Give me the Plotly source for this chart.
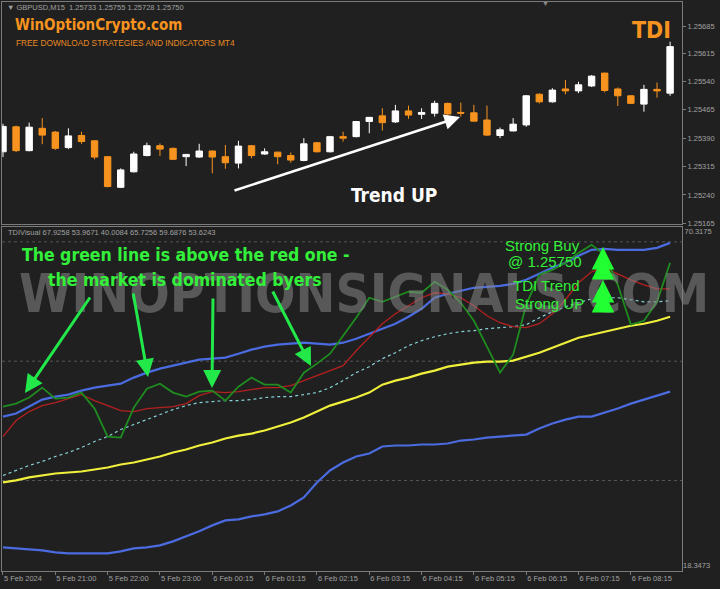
import plotly.graph_objects as go

# ---------------- data ----------------
bar_index = list(range(52))
open_ = [1.25354, 1.25420, 1.25357, 1.25416, 1.25406, 1.25365, 1.25397, 1.25383, 1.25341, 1.25260,
         1.25301, 1.25344, 1.25370, 1.25363, 1.25341, 1.25340, 1.25356, 1.25341, 1.25324, 1.25370,
         1.25348, 1.25353, 1.25344, 1.25331, 1.25378, 1.25354, 1.25394, 1.25394, 1.25434, 1.25449,
         1.25433, 1.25462, 1.25453, 1.25456, 1.25482, 1.25458, 1.25457, 1.25438, 1.25397, 1.25409,
         1.25425, 1.25506, 1.25486, 1.25520, 1.25515, 1.25528, 1.25562, 1.25520, 1.25502, 1.25480,
         1.25519, 1.25509]
high = [1.25428, 1.25423, 1.25431, 1.25443, 1.25409, 1.25416, 1.25407, 1.25385, 1.25343, 1.25310,
        1.25354, 1.25378, 1.25376, 1.25365, 1.25348, 1.25375, 1.25357, 1.25372, 1.25383, 1.25372,
        1.25363, 1.25354, 1.25352, 1.25390, 1.25380, 1.25396, 1.25407, 1.25435, 1.25446, 1.25469,
        1.25478, 1.25476, 1.25469, 1.25489, 1.25484, 1.25484, 1.25478, 1.25476, 1.25418, 1.25443,
        1.25504, 1.25509, 1.25522, 1.25544, 1.25539, 1.25557, 1.25563, 1.25524, 1.25504, 1.25531,
        1.25537, 1.25645]
low = [1.25340, 1.25353, 1.25355, 1.25374, 1.25359, 1.25361, 1.25375, 1.25334, 1.25260, 1.25258,
       1.25299, 1.25342, 1.25343, 1.25332, 1.25316, 1.25338, 1.25297, 1.25309, 1.25310, 1.25337,
       1.25346, 1.25321, 1.25325, 1.25329, 1.25352, 1.25352, 1.25381, 1.25392, 1.25403, 1.25410,
       1.25430, 1.25441, 1.25441, 1.25447, 1.25449, 1.25447, 1.25434, 1.25396, 1.25390, 1.25408,
       1.25420, 1.25482, 1.25484, 1.25506, 1.25509, 1.25525, 1.25511, 1.25475, 1.25480, 1.25460,
       1.25497, 1.25502]
close = [1.25421, 1.25357, 1.25419, 1.25398, 1.25363, 1.25396, 1.25381, 1.25340, 1.25262, 1.25306,
         1.25348, 1.25370, 1.25361, 1.25334, 1.25347, 1.25356, 1.25340, 1.25325, 1.25369, 1.25344,
         1.25354, 1.25341, 1.25332, 1.25375, 1.25354, 1.25394, 1.25390, 1.25434, 1.25445, 1.25431,
         1.25462, 1.25451, 1.25458, 1.25482, 1.25454, 1.25456, 1.25435, 1.25398, 1.25412, 1.25427,
         1.25502, 1.25486, 1.25517, 1.25515, 1.25531, 1.25554, 1.25516, 1.25502, 1.25482, 1.25519,
         1.25515, 1.25632]

rsi_price_line = [43.15, 43.60, 44.51, 46.01, 44.36, 44.51, 45.26, 42.85, 38.63, 38.48,
                  43.00, 45.86, 46.61, 45.26, 44.66, 45.41, 45.56, 44.05, 46.16, 47.52,
                  46.46, 46.46, 45.26, 48.27, 49.63, 51.13, 53.84, 56.55, 59.57, 58.96,
                  59.72, 60.47, 60.32, 61.98, 60.77, 58.81, 56.10, 52.19, 48.27, 50.98,
                  58.51, 63.03, 63.78, 64.84, 66.34, 67.55, 66.04, 61.52, 55.50, 56.10,
                  58.96, 64.84]
trade_signal_line = [38.63, 41.04, 42.40, 43.30, 43.75, 44.36, 44.96, 44.05, 43.30, 42.55,
                     42.40, 42.85, 43.00, 43.15, 43.60, 44.81, 45.41, 45.26, 45.41, 45.71,
                     46.01, 46.01, 46.31, 47.07, 47.82, 48.57, 49.33, 51.58, 53.69, 55.65,
                     57.16, 58.36, 59.57, 60.32, 60.17, 59.57, 58.36, 56.86, 55.80, 55.20,
                     55.05, 55.65, 57.16, 59.27, 61.83, 63.48, 64.08, 63.18, 62.28, 61.52,
                     60.92, 60.92]
upper_band = [41.64, 42.10, 43.15, 44.21, 44.66, 44.96, 45.56, 46.01, 46.31, 46.61,
              47.52, 48.27, 48.87, 49.33, 49.78, 50.23, 50.38, 50.53, 51.13, 51.74,
              52.19, 52.49, 52.64, 52.79, 52.64, 52.49, 52.79, 53.39, 54.14, 54.90,
              55.65, 56.70, 57.91, 59.57, 60.17, 60.62, 61.07, 61.22, 61.37, 61.67,
              62.28, 63.18, 64.08, 64.84, 65.89, 66.80, 66.95, 66.80, 66.80, 66.80,
              67.10, 67.85]
lower_band = [21.92, 21.77, 21.62, 21.46, 21.16, 21.01, 21.01, 21.01, 21.01, 21.31,
              21.77, 21.92, 22.22, 22.82, 23.57, 24.33, 25.23, 25.98, 26.13, 26.58,
              26.89, 27.34, 28.24, 29.45, 31.71, 33.51, 34.72, 35.62, 36.07, 37.13,
              37.28, 37.28, 37.43, 37.43, 37.58, 38.03, 38.18, 38.48, 38.63, 38.78,
              38.93, 39.84, 40.59, 41.19, 41.64, 41.64, 42.25, 42.85, 43.60, 44.21,
              44.81, 45.41]
market_base_line = [31.71, 32.01, 32.46, 32.76, 33.06, 33.21, 33.36, 33.66, 33.96, 34.42,
                    34.72, 35.17, 35.62, 36.22, 36.68, 37.28, 37.73, 38.33, 38.78, 39.08,
                    39.54, 40.14, 40.74, 41.49, 42.40, 43.30, 43.90, 44.51, 45.26, 46.46,
                    47.07, 47.52, 48.12, 48.57, 49.17, 49.48, 49.78, 49.93, 49.93, 50.08,
                    50.68, 51.28, 52.04, 52.79, 53.54, 53.99, 54.45, 54.90, 55.35, 55.65,
                    56.10, 56.70]
slow_signal_line = [32.76, 33.51, 34.27, 34.87, 35.62, 36.22, 36.98, 37.88, 38.63, 39.69,
                    40.44, 41.19, 41.95, 42.70, 43.30, 43.75, 43.90, 44.05, 44.05, 44.21,
                    44.51, 44.66, 44.66, 44.96, 45.26, 46.01, 47.07, 48.27, 49.17, 50.38,
                    51.28, 52.34, 53.09, 53.69, 54.14, 54.45, 54.60, 54.90, 55.05, 55.20,
                    55.50, 56.55, 57.46, 58.21, 58.81, 59.42, 59.57, 59.57, 59.27, 58.96,
                    58.96, 59.11]

time_tick_index = [0, 4, 8, 12, 16, 20, 24, 28, 32, 36, 40, 44, 48]
time_tick_text = ["5 Feb 2024", "5 Feb 21:00", "5 Feb 22:00", "5 Feb 23:00", "6 Feb 00:15",
                  "6 Feb 01:15", "6 Feb 02:15", "6 Feb 03:15", "6 Feb 04:15", "6 Feb 05:15",
                  "6 Feb 06:15", "6 Feb 07:15", "6 Feb 08:15"]
price_ticks = [1.25165, 1.25240, 1.25315, 1.25390, 1.25465, 1.25540, 1.25615, 1.25685]
tdi_levels = [32, 50, 68]
tdi_max, tdi_min = 70.3175, 18.3473

# ---------------- styling helpers ----------------
W, H = 720, 589
L, R, T, B = 2, 38, 2, 18
PW, PH = W - L - R, H - T - B
BG = "#202020"
AX = "#7a7a7a"
TXT = "#a0a0a0"
ORANGE = "#f7931e"
LIME = "#33f03a"
NARROW = "Liberation Sans Narrow, DejaVu Sans Condensed, Arial Narrow, sans-serif"
SANS = "Liberation Sans, Arial, sans-serif"


def fx(p):
    return (p - L) / PW


def fy(p):
    return (H - B - p) / PH


xr = [-0.076, 51.91]

fig = go.Figure()
fig.add_trace(go.Candlestick(
    x=bar_index, open=open_, high=high, low=low, close=close,
    increasing=dict(line=dict(color="#ffffff", width=1), fillcolor="#ffffff"),
    decreasing=dict(line=dict(color=ORANGE, width=1), fillcolor=ORANGE),
    whiskerwidth=0, xaxis="x", yaxis="y", hoverinfo="skip", showlegend=False))

lines = [
    (slow_signal_line, "#86d0d6", 1.2, "dot"),
    (market_base_line, "#f0f03c", 2.2, "solid"),
    (upper_band, "#4b6be0", 2.2, "solid"),
    (lower_band, "#4b6be0", 2.2, "solid"),
    (trade_signal_line, "#b42020", 1.3, "solid"),
    (rsi_price_line, "#1f8c1f", 1.8, "solid"),
]
for vals, col, wd, dash in lines:
    fig.add_trace(go.Scatter(x=bar_index, y=vals, mode="lines", xaxis="x2", yaxis="y2",
                             line=dict(color=col, width=wd, dash=dash),
                             hoverinfo="skip", showlegend=False))
fig.add_trace(go.Scatter(x=[], y=[], xaxis="x2", yaxis="y3", showlegend=False))

for lv in tdi_levels:
    fig.add_shape(type="line", xref="x2 domain", x0=0, x1=1, yref="y2", y0=lv, y1=lv,
                  line=dict(color="#555555", width=1, dash="dot"), layer="below")

tickfont = dict(family=SANS, size=7.5, color=TXT)
axis_common = dict(showline=True, mirror=True, linecolor=AX, linewidth=1,
                   showgrid=False, zeroline=False, fixedrange=True, automargin=False)

fig.update_layout(
    width=W, height=H, autosize=False,
    margin=dict(l=L, r=R, t=T, b=B, autoexpand=False),
    paper_bgcolor=BG, plot_bgcolor=BG,
    showlegend=False,
    xaxis=dict(domain=[0, 1], anchor="y", range=xr, showticklabels=False, ticks="",
               rangeslider=dict(visible=False), **axis_common),
    yaxis=dict(domain=[fy(224), 1], anchor="x", side="right", range=[1.25163, 1.25750],
               tickvals=price_ticks, ticktext=[f"{v:.5f}" for v in price_ticks],
               ticks="outside", ticklen=3, tickcolor=AX, tickfont=tickfont, **axis_common),
    xaxis2=dict(domain=[0, 1], anchor="y2", range=xr, matches="x",
                tickvals=time_tick_index, ticktext=time_tick_text,
                ticks="outside", ticklen=3, tickcolor=AX, ticklabelposition="outside right",
                tickfont=tickfont, **axis_common),
    yaxis2=dict(domain=[0, fy(226.5)], anchor="x2", side="right", range=[tdi_min, tdi_max],
                tickvals=[tdi_max], ticktext=[f"{tdi_max:.4f}"], ticks="",
                ticklabelposition="outside bottom", tickfont=tickfont, **axis_common),
    yaxis3=dict(overlaying="y2", anchor="x2", side="right", range=[tdi_min, tdi_max],
                tickvals=[tdi_min], ticktext=[f"{tdi_min:.4f}"], ticks="",
                ticklabelposition="outside top", tickfont=tickfont, automargin=False,
                showline=False, showgrid=False, zeroline=False, fixedrange=True),
)


def text(t, x, y, size, color, family=SANS, xanchor="center"):
    fig.add_annotation(text=t, x=fx(x), y=fy(y), xref="paper", yref="paper",
                       xanchor=xanchor, yanchor="middle", showarrow=False,
                       font=dict(family=family, size=size, color=color))


def arrow(x_head, y_head, x_tail, y_tail, color, width, size=1.0):
    fig.add_annotation(text="", x=fx(x_head), y=fy(y_head), xref="paper", yref="paper",
                       ax=x_tail - x_head, ay=y_tail - y_head, axref="pixel", ayref="pixel",
                       showarrow=True, arrowhead=2, arrowsize=size, arrowwidth=width,
                       arrowcolor=color)


# header texts
text("▼ GBPUSD,M15  1.25733 1.25755 1.25728 1.25750", 5, 7, 7.5, TXT, xanchor="left")
text("▼", 545, 4, 7, "#8a8a8a")
text("<b>WinOptionCrypto.com</b>", 13, 25, 15, ORANGE, NARROW, xanchor="left")
text("FREE DOWNLOAD STRATEGIES AND INDICATORS MT4", 14, 43.5, 8.3, "#e88a24", xanchor="left")
text("<b>TDI</b>", 651, 30, 23, ORANGE, NARROW)
text("<b>Trend UP</b>", 394, 195, 19, "#ffffff", NARROW)
arrow(460, 117, 233, 191, "#ffffff", 2.6, 1.2)
text("TDIVisual 67.9258 53.9671 40.0084 65.7256 59.6876 53.6243", 6, 233, 7.5, TXT, xanchor="left")

# watermark
text("<b>WINOPTIONSIGNALS.COM</b>", 364, 293, 53, "rgba(135,135,135,0.55)", NARROW)

# green comments
text("<b>The green line is above the red one -</b>", 186, 255, 17.5, LIME, NARROW)
text("<b>the market is dominated byers</b>", 185, 280, 17.5, LIME, NARROW)
arrow(25, 393, 91, 296, "#22e84a", 3, 1.2)
arrow(148, 377, 133, 292, "#22e84a", 3, 1.2)
arrow(212, 388, 213, 297, "#22e84a", 3, 1.2)
arrow(311, 366, 272, 290, "#22e84a", 3, 1.2)

text("Strong Buy", 542, 245, 15, LIME)
text("@ 1.25750", 545, 261, 15, LIME)
text("TDI Trend", 546, 285, 15, LIME)
text("Strong UP", 549, 303, 15, LIME)
for top in (247, 280):
    arrow(603, top, 603, top + 25, "#22ff33", 5, 0.9)
    arrow(603, top + 10, 603, top + 25, "#22ff33", 5, 0.9)

fig.write_html("out.html", config={"displayModeBar": False},
               post_script="document.body.style.margin='0';document.body.style.background='#202020';")
